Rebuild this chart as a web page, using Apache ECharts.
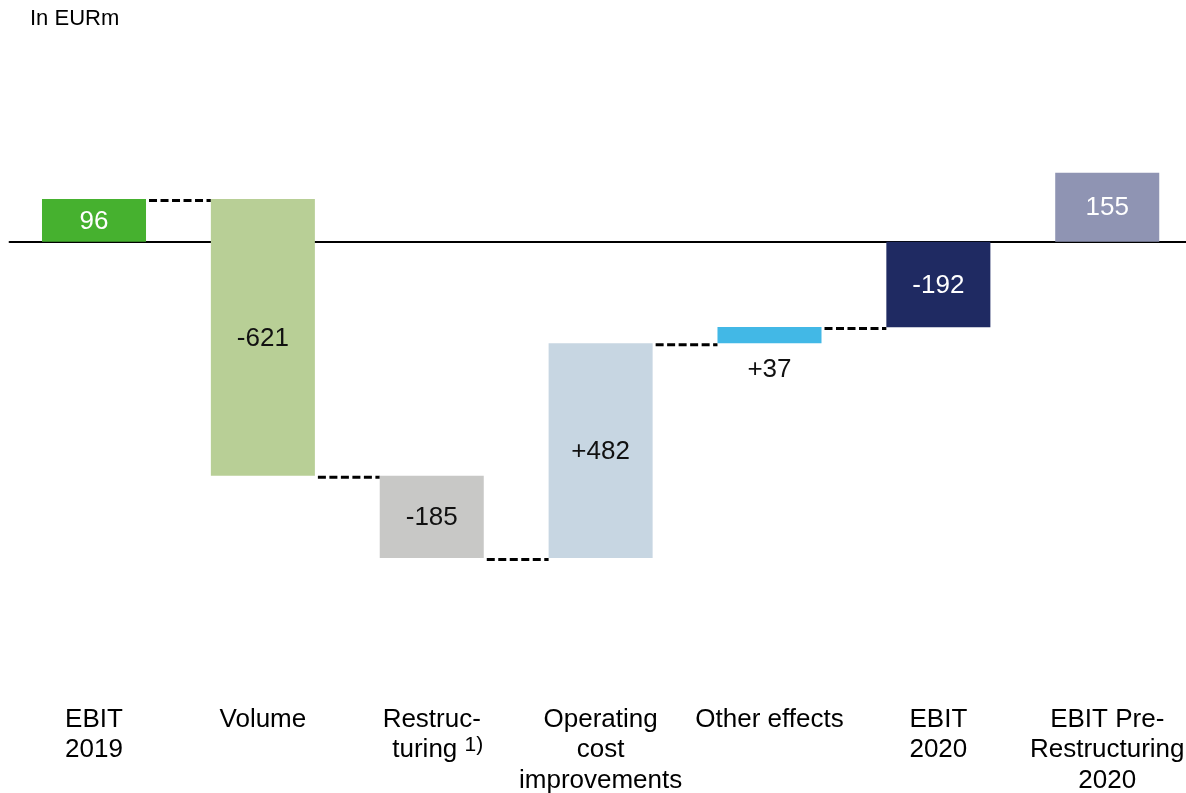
<!DOCTYPE html>
<html><head><meta charset="utf-8">
<script src="https://cdn.jsdelivr.net/npm/echarts@6/dist/echarts.min.js"></script>
<style>html,body{margin:0;padding:0;background:#fff}#c{width:1186px;height:793px}</style>
</head><body><div id="c"></div>
<script>
const unitLabel = 'In EURm';
const categories = ['EBIT\n2019', 'Volume', 'Restruc-\nturing 1)', 'Operating\ncost\nimprovements', 'Other effects', 'EBIT\n2020', 'EBIT Pre-\nRestructuring\n2020'];
const values = [96, -621, -185, 482, 37, -192, 155];
const kinds = ['total', 'delta', 'delta', 'delta', 'delta', 'total', 'total'];
const connectorAfter = [true, true, true, true, true, false, false];

const barColors = ['#46B12F', '#B8CF96', '#C8C8C6', '#C7D6E2', '#42B8E6', '#1F2A62', '#8F94B3'];
const labelColors = ['#ffffff', '#111111', '#111111', '#111111', '#111111', '#ffffff', '#ffffff'];
const FONT = 'Liberation Sans, Arial, Helvetica, sans-serif';

// waterfall ranges
const starts = [], ends = [];
let cum = 0;
values.forEach((v, i) => {
  if (kinds[i] === 'total') { starts.push(0); ends.push(v); cum = v; }
  else { starts.push(cum); ends.push(cum + v); cum += v; }
});
function fmt(v, kind) {
  if (kind === 'delta' && v > 0) return '+' + v;
  return String(v);
}

const chart = echarts.init(document.getElementById('c'), null, {renderer: 'canvas'});
chart.setOption({
  animation: false,
  backgroundColor: '#ffffff',
  title: {
    text: unitLabel, left: 30, top: 8, padding: 0,
    textStyle: {fontSize: 22, fontWeight: 'normal', color: '#000', fontFamily: FONT}
  },
  grid: {left: 9.57, right: -5.67, top: 108.15, height: 490.05, outerBoundsMode: 'none', containLabel: false},
  xAxis: [{
    type: 'category', data: categories,
    axisLine: {show: true, onZero: true, lineStyle: {color: '#000', width: 2}},
    axisTick: {show: false}, axisLabel: {show: false}, splitLine: {show: false}
  }, {
    type: 'category', data: categories, position: 'bottom',
    axisLine: {show: false, onZero: false}, axisTick: {show: false}, splitLine: {show: false},
    axisLabel: {
      interval: 0, margin: 106, fontSize: 26, lineHeight: 30.5, color: '#000', fontFamily: FONT,
      hideOverlap: false,
      formatter: (v) => v.replace('turing 1)', '{pad| }turing {sup|1)}'),
      rich: {
        pad: {width: 12, fontSize: 26, lineHeight: 30.5},
        sup: {fontSize: 21, lineHeight: 10, padding: [0, 0, 10, 0], color: '#000', fontFamily: FONT}
      }
    }
  }],
  yAxis: {type: 'value', min: -800, max: 300, show: false, splitLine: {show: false}},
  series: [{
    type: 'custom',
    xAxisIndex: 0,
    data: values.map((v, i) => [i, starts[i], ends[i]]),
    encode: {x: 0, y: [1, 2]},
    renderItem: function (params, api) {
      const i = api.value(0), s = api.value(1), e = api.value(2);
      const p1 = api.coord([i, s]), p2 = api.coord([i, e]);
      const band = api.size([1, 0])[0];
      const bw = band * 0.616;
      const top = Math.min(p1[1], p2[1]), bot = Math.max(p1[1], p2[1]);
      const children = [{
        type: 'rect',
        shape: {x: p1[0] - bw / 2, y: top, width: bw, height: bot - top},
        style: {fill: barColors[i]}
      }];
      const h = bot - top;
      const small = h < 30;
      children.push({
        type: 'text',
        style: {
          text: fmt(values[i], kinds[i]),
          x: p1[0], y: small ? bot + 26 : (top + bot) / 2 + 1,
          align: 'center', verticalAlign: 'middle',
          fontSize: 26, fontFamily: FONT, fill: small ? '#111111' : labelColors[i]
        }
      });
      if (connectorAfter[i]) {
        const a = api.coord([i, e]), b = api.coord([i + 1, e]);
        children.push({
          type: 'line',
          shape: {x1: a[0] + bw / 2 + 3, y1: a[1] + 1.5, x2: b[0] - bw / 2, y2: b[1] + 1.5},
          style: {stroke: '#000', lineWidth: 3, lineDash: [8, 3.5]}
        });
      }
      return {type: 'group', children: children};
    }
  }]
});
</script></body></html>
